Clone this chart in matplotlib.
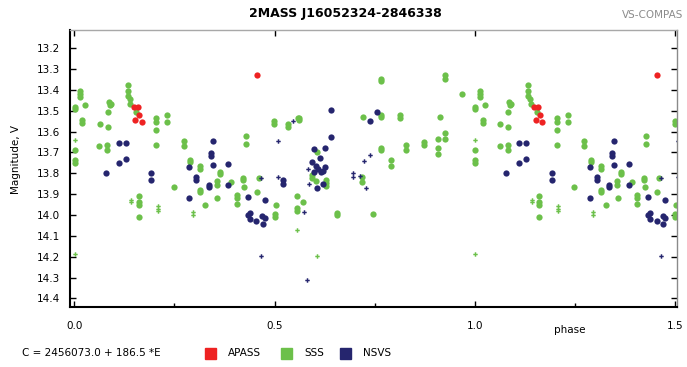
import numpy as np
import matplotlib
matplotlib.use("Agg")
import matplotlib.pyplot as plt
from matplotlib.patches import Rectangle

# phase-folded light curve of 2MASS J16052324-2846338 (phase 0..1, repeated past 1)
apass_phase = [0.148, 0.158, 0.162, 0.152, 0.168, 0.4555]
apass_mag = [13.480, 13.484, 13.520, 13.543, 13.554, 13.330]

sss_phase = [0.0133, 0.0133, 0.0133, 0.001, 0.001, 0.0266, 0.020, 0.020, 0.001, 0.001, 0.001,
             0.063, 0.0625, 0.082, 0.082, 0.084, 0.084, 0.086, 0.091, 0.089,
             0.134, 0.134, 0.134, 0.138, 0.140, 0.155,
             0.2045, 0.2045, 0.2045, 0.2045, 0.232, 0.232,
             0.161, 0.161, 0.161, 0.161, 0.2486, 0.274, 0.274, 0.289, 0.289,
             0.314, 0.314, 0.314, 0.314, 0.327, 0.357, 0.3556, 0.3556, 0.364, 0.364,
             0.3915, 0.428, 0.428, 0.422, 0.422, 0.424, 0.4056, 0.4056, 0.4056,
             0.4555, 0.4611, 0.4988, 0.4988, 0.5037, 0.5012, 0.5012,
             0.5337, 0.5337, 0.561, 0.561, 0.5594, 0.605, 0.5927, 0.5927, 0.604,
             0.6276, 0.6276, 0.6276, 0.5553, 0.5718, 0.5553, 0.5553, 0.6567, 0.6567,
             0.7448, 0.7215, 0.7647, 0.7647, 0.7647, 0.7647, 0.7647, 0.7647, 0.719, 0.719,
             0.814, 0.814, 0.7914, 0.7914, 0.8288, 0.8288, 0.872, 0.872, 0.9144,
             0.9269, 0.9269, 0.9261, 0.9261, 0.9085, 0.9085, 0.9085, 0.9684]
sss_mag = [13.405, 13.420, 13.435, 13.480, 13.490, 13.471, 13.545, 13.560, 13.690, 13.735, 13.750,
           13.565, 13.667, 13.666, 13.688, 13.508, 13.578, 13.460, 13.468, 13.475,
           13.377, 13.404, 13.429, 13.445, 13.469, 13.505,
           13.537, 13.555, 13.591, 13.663, 13.519, 13.556,
           13.907, 13.938, 13.950, 14.008, 13.864, 13.647, 13.669, 13.735, 13.748,
           13.767, 13.780, 13.878, 13.892, 13.952, 13.920, 13.835, 13.855, 13.795, 13.805,
           13.843, 13.620, 13.660, 13.822, 13.832, 13.864, 13.905, 13.918, 13.949,
           13.891, 13.824, 13.548, 13.566, 13.952, 13.995, 14.010,
           13.566, 13.578, 13.536, 13.546, 13.536, 13.696, 13.810, 13.822, 13.837,
           13.830, 13.845, 13.860, 13.909, 13.939, 13.967, 13.980, 13.990, 14.000,
           13.996, 13.532, 13.347, 13.359, 13.520, 13.530, 13.680, 13.690, 13.819, 13.840,
           13.522, 13.535, 13.736, 13.765, 13.664, 13.690, 13.652, 13.666, 13.532,
           13.330, 13.350, 13.605, 13.634, 13.637, 13.679, 13.709, 13.420]

# faint SSS points (small markers)
sss_faint_phase = [0.001, 0.001, 0.142, 0.142, 0.2086, 0.2086, 0.2086, 0.296, 0.296, 0.5561, 0.606]
sss_faint_mag = [13.640, 14.187, 13.928, 13.940, 13.955, 13.970, 13.983, 13.984, 13.998, 14.072, 14.199]

nsvs_phase = [0.111, 0.111, 0.128, 0.128, 0.079, 0.192, 0.192, 0.3475, 0.3475, 0.3416, 0.3416,
              0.385, 0.385, 0.287, 0.287, 0.305, 0.305, 0.336, 0.336, 0.433, 0.4335,
              0.4375, 0.4375, 0.454, 0.4697, 0.476, 0.476, 0.4705,
              0.6417, 0.6417, 0.5985, 0.626, 0.626, 0.6143, 0.5927, 0.6027, 0.6093,
              0.598, 0.615, 0.6217, 0.522, 0.522, 0.6209, 0.6051, 0.7548, 0.7373]
nsvs_mag = [13.655, 13.749, 13.655, 13.731, 13.800, 13.797, 13.832, 13.643, 13.760, 13.703, 13.717,
            13.755, 13.856, 13.768, 13.920, 13.820, 13.832, 13.855, 13.867, 13.913, 14.000,
            13.989, 14.020, 14.027, 14.003, 13.926, 14.016, 14.043,
            13.496, 13.624, 13.685, 13.679, 13.768, 13.725, 13.744, 13.765, 13.781,
            13.792, 13.795, 13.789, 13.832, 13.851, 13.851, 13.872, 13.508, 13.549]

nsvs_faint_phase = [0.4655, 0.4655, 0.508, 0.508, 0.546, 0.5836, 0.586, 0.5736,
                    0.739, 0.7232, 0.6958, 0.6958, 0.7132, 0.729, 0.582]
nsvs_faint_mag = [14.195, 13.822, 13.645, 13.816, 13.551, 13.781, 13.851, 13.987,
                  13.712, 13.739, 13.800, 13.819, 13.811, 13.869, 14.311]

xticks = [0.0, 0.5, 1.0, 1.5]
xtick_labels = ["0.0", "0.5", "1.0", "1.5"]
yticks = [13.2, 13.3, 13.4, 13.5, 13.6, 13.7, 13.8, 13.9, 14.0, 14.1, 14.2, 14.3, 14.4]

RED = "#ee2222"
GREEN = "#6cc04a"
NAVY = "#25256e"


def fold(phase, mag):
    # show phase 0..0.5 again after 1.0
    p = np.asarray(phase)
    m = np.asarray(mag)
    extra = p < 0.51
    return np.concatenate([p, p[extra] + 1.0]), np.concatenate([m, m[extra]])


W, H = 687, 367
fig = plt.figure(figsize=(W / 100, H / 100), dpi=100)
left, right, top, bottom = 69.5, 677, 30, 306.7
ax = fig.add_axes([left / W, 1 - bottom / H, (right - left) / W, (bottom - top) / H])

for ph, mg, col in [(sss_phase, sss_mag, GREEN), (nsvs_phase, nsvs_mag, NAVY)]:
    x, y = fold(ph, mg)
    ax.plot(x, y, "o", color=col, markersize=4.5, markeredgewidth=0)
for ph, mg, col in [(sss_faint_phase, sss_faint_mag, GREEN), (nsvs_faint_phase, nsvs_faint_mag, NAVY)]:
    x, y = fold(ph, mg)
    ax.plot(x, y, "P", color=col, markersize=3.2, markeredgewidth=0)
x, y = fold(apass_phase, apass_mag)
ax.plot(x, y, "o", color=RED, markersize=4.5, markeredgewidth=0)

ax.set_xlim(-0.012, 1.505)
ax.set_ylim(14.44, 13.113)
ax.set_xticks(xticks)
ax.set_xticklabels(xtick_labels)
ax.set_xticks([0.25, 0.75, 1.25], minor=True)
ax.set_yticks(yticks)
ax.set_yticklabels([f"{v:.1f}" for v in yticks])

ax.tick_params(which="major", direction="in", top=True, right=True, length=4,
               width=1, labelsize=7.5, pad=7, colors="black")
ax.tick_params(which="minor", direction="in", top=False, length=3, width=1)
ax.tick_params(axis="x", which="major", pad=10)

for s in ["left", "bottom"]:
    ax.spines[s].set_linewidth(1.5)
    ax.spines[s].set_color("black")
ax.spines["top"].set_color("#a8a8a8")
ax.spines["top"].set_linewidth(1)
ax.spines["right"].set_color("#8a8a8a")
ax.spines["right"].set_linewidth(1)

fig.text(345 / W, 1 - 13 / H, "2MASS J16052324-2846338", ha="center", va="center",
         fontsize=9, fontweight="bold")
fig.text(683 / W, 1 - 15 / H, "VS-COMPAS", ha="right", va="center", fontsize=7.5, color="#8c8c8c")
fig.text(16 / W, 1 - 160 / H, "Magnitude, V", ha="center", va="center", rotation=90, fontsize=7.5)
fig.text(570 / W, 1 - 330 / H, "phase", ha="center", va="center", fontsize=7.5)

# legend row
ly = 1 - 353 / H
fig.text(22 / W, ly, "C = 2456073.0 + 186.5 *E", ha="left", va="center", fontsize=7.5)
for x0, col, lab in [(205, RED, "APASS"), (281, GREEN, "SSS"), (340, NAVY, "NSVS")]:
    fig.patches.append(Rectangle((x0 / W, (H - 359) / H), 11 / W, 11 / H,
                                 transform=fig.transFigure, color=col))
    fig.text((x0 + 23) / W, ly, lab, ha="left", va="center", fontsize=7.5)

fig.savefig("out.png", dpi=100)
